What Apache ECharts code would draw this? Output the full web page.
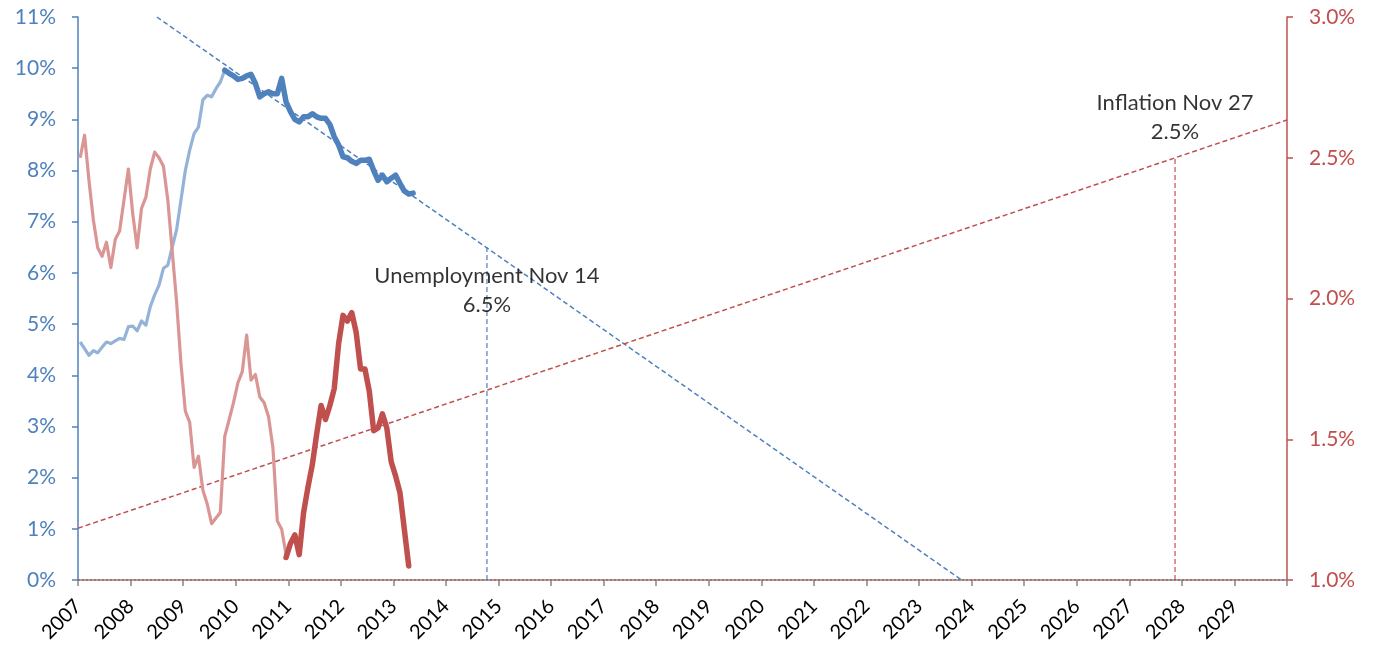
<!DOCTYPE html>
<html>
<head>
<meta charset="utf-8">
<script src="https://cdn.jsdelivr.net/npm/echarts@6/dist/echarts.min.js"></script>
<style>
html,body{margin:0;padding:0;background:#fff;}
#chart{width:1375px;height:647px;}
</style>
</head>
<body>
<div id="chart"></div>
<script>
// ---- data (monthly, index 0 = Jan 2007) ----
const startYear = 2007;
const yearLabels = [2007,2008,2009,2010,2011,2012,2013,2014,2015,2016,2017,2018,2019,2020,2021,2022,2023,2024,2025,2026,2027,2028,2029];

// Unemployment rate (%), Jan 2007 - Oct 2009
const unempEarlyStart = 0;
const unempEarly = [4.65,4.52,4.39,4.48,4.44,4.55,4.65,4.62,4.67,4.72,4.70,4.95,
  4.96,4.87,5.06,4.98,5.34,5.57,5.76,6.09,6.15,6.50,6.84,7.42,
  8.00,8.40,8.72,8.85,9.38,9.47,9.44,9.60,9.73,9.96];
// Unemployment rate (%), Oct 2009 - May 2013
const unempRecentStart = 33;
const unempRecent = [9.96,9.90,9.85,
  9.78,9.80,9.85,9.88,9.70,9.44,9.50,9.54,9.50,9.50,9.80,9.34,
  9.15,9.00,8.95,9.05,9.05,9.11,9.05,9.02,9.02,8.90,8.66,8.50,
  8.27,8.25,8.18,8.14,8.20,8.20,8.22,8.00,7.81,7.91,7.78,7.85,
  7.91,7.75,7.60,7.54,7.56];

// Core inflation (%), Jan 2007 - Dec 2010
const inflEarlyStart = 0;
const inflEarly = [2.50,2.58,2.42,2.28,2.18,2.15,2.20,2.11,2.21,2.24,2.35,2.46,
  2.30,2.18,2.32,2.36,2.46,2.52,2.50,2.47,2.35,2.17,1.99,1.77,
  1.60,1.56,1.40,1.44,1.32,1.27,1.20,1.22,1.24,1.51,1.57,1.63,
  1.70,1.74,1.87,1.71,1.73,1.65,1.63,1.58,1.47,1.21,1.18,1.09];
// Core inflation (%), Dec 2010 - Apr 2013
const inflRecentStart = 47;
const inflRecent = [1.08,
  1.13,1.16,1.09,1.24,1.33,1.41,1.52,1.62,1.57,1.62,1.68,1.84,
  1.94,1.92,1.95,1.88,1.75,1.75,1.67,1.53,1.54,1.59,1.54,1.42,
  1.37,1.31,1.18,1.05];

// Trend lines [year, value]
const unempTrend = [[2008.5, 11.0], [2023.81, 0.0]];
const inflTrend = [[2007.0, 1.184], [2030.0, 2.634]];

// Threshold crossings
const unempTarget = {year: 2014.78, value: 6.5, text: 'Unemployment Nov 14\n6.5%'};
const inflTarget = {year: 2027.87, value: 2.5, text: 'Inflation Nov 27\n2.5%'};
const leftFloor = 0;
const rightFloor = 1.0;

// ---- build ----
function monthly(arr, start) {
  return arr.map((v, k) => [startYear + (start + k + 0.5) / 12, v]);
}

const BLUE = '#4F81BD', LBLUE = '#95B3D7', RED = '#C0504D', LRED = '#DA9694';
const FONT = 'Lato';

const chart = echarts.init(document.getElementById('chart'), null, {renderer: 'canvas'});
chart.setOption({
  animation: false,
  backgroundColor: '#fff',
  grid: {left: 78, right: 88, top: 17, bottom: 67, containLabel: false},
  xAxis: {
    type: 'value', min: 2007, max: 2030, interval: 1,
    axisLine: {lineStyle: {color: '#868686', width: 1.5}},
    axisTick: {show: true, length: 6, lineStyle: {color: '#868686', width: 1.5}},
    splitLine: {show: false},
    axisLabel: {
      rotate: 45, margin: 23, color: '#000', fontFamily: FONT, fontSize: 20,
      formatter: v => yearLabels.indexOf(Math.round(v)) >= 0 ? String(Math.round(v)) : ''
    }
  },
  yAxis: [
    {
      type: 'value', min: 0, max: 11, interval: 1, position: 'left',
      axisLine: {show: true, lineStyle: {color: BLUE, width: 1.5}},
      axisTick: {show: true, length: 6, lineStyle: {color: BLUE, width: 1.5}},
      splitLine: {show: false},
      axisLabel: {color: BLUE, fontFamily: FONT, fontSize: 21, margin: 22, formatter: v => v + '%'}
    },
    {
      type: 'value', min: 1, max: 3, interval: 0.5, position: 'right',
      axisLine: {show: true, lineStyle: {color: RED, width: 1.5}},
      axisTick: {show: true, length: 6, lineStyle: {color: RED, width: 1.5}},
      splitLine: {show: false},
      axisLabel: {color: RED, fontFamily: FONT, fontSize: 21, margin: 22, formatter: v => v.toFixed(1) + '%'}
    }
  ],
  series: [
    {
      name: 'inflFloor', type: 'line', yAxisIndex: 1, silent: true, showSymbol: false,
      data: [[2007, rightFloor], [2030, rightFloor]],
      lineStyle: {color: RED, width: 1.5, type: [2, 2]}, z: 1
    },
    {
      name: 'unempTrend', type: 'line', yAxisIndex: 0, showSymbol: false, silent: true,
      data: unempTrend, lineStyle: {color: BLUE, width: 1.5, type: [5, 3]}, z: 2
    },
    {
      name: 'inflTrend', type: 'line', yAxisIndex: 1, showSymbol: false, silent: true,
      data: inflTrend, lineStyle: {color: RED, width: 1.5, type: [5, 3]}, z: 2
    },
    {
      name: 'unempVert', type: 'line', yAxisIndex: 0, showSymbol: false, silent: true,
      data: [[unempTarget.year, leftFloor], [unempTarget.year, unempTarget.value]],
      lineStyle: {color: BLUE, width: 1.2, type: [5, 3]}, z: 2
    },
    {
      name: 'inflVert', type: 'line', yAxisIndex: 1, showSymbol: false, silent: true,
      data: [[inflTarget.year, rightFloor], [inflTarget.year, inflTarget.value]],
      lineStyle: {color: RED, width: 1.2, type: [5, 3]}, z: 2
    },
    {
      name: 'unempEarly', type: 'line', yAxisIndex: 0, showSymbol: false,
      data: monthly(unempEarly, unempEarlyStart),
      lineStyle: {color: LBLUE, width: 3.2, join: 'round'}, z: 3
    },
    {
      name: 'inflEarly', type: 'line', yAxisIndex: 1, showSymbol: false,
      data: monthly(inflEarly, inflEarlyStart),
      lineStyle: {color: LRED, width: 3.2, join: 'round'}, z: 3
    },
    {
      name: 'unempRecent', type: 'line', yAxisIndex: 0, showSymbol: false,
      data: monthly(unempRecent, unempRecentStart),
      lineStyle: {color: BLUE, width: 5.5, join: 'round', cap: 'round'}, z: 4
    },
    {
      name: 'inflRecent', type: 'line', yAxisIndex: 1, showSymbol: false,
      data: monthly(inflRecent, inflRecentStart),
      lineStyle: {color: RED, width: 5.5, join: 'round', cap: 'round'}, z: 4
    },
    {
      name: 'unempLabel', type: 'scatter', yAxisIndex: 0, symbolSize: 0, silent: true,
      data: [[unempTarget.year, unempTarget.value]],
      label: {show: true, position: 'bottom', distance: 14, formatter: unempTarget.text,
        color: '#000', fontFamily: FONT, fontSize: 22, lineHeight: 29, align: 'center'}, z: 5
    },
    {
      name: 'inflLabel', type: 'scatter', yAxisIndex: 1, symbolSize: 0, silent: true,
      data: [[inflTarget.year, inflTarget.value]],
      label: {show: true, position: 'top', distance: 11, formatter: inflTarget.text,
        color: '#000', fontFamily: FONT, fontSize: 22, lineHeight: 29, align: 'center'}, z: 5
    }
  ]
});
</script>
</body>
</html>
